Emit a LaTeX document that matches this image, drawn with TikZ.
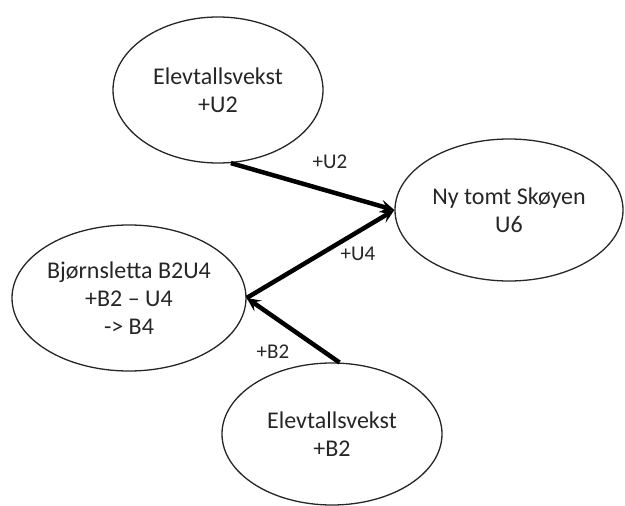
\documentclass[tikz,border=0pt]{standalone}
\usepackage{fontspec}
\setmainfont{Carlito}
\usetikzlibrary{shapes.geometric,arrows.meta}
\begin{document}
\begin{tikzpicture}[x=1pt,y=-1pt,
  bubble/.style={draw=black!85,line width=1.3pt,ellipse,inner sep=0pt,align=center,
    text=black!85,font=\fontsize{24}{28}\selectfont},
  flow/.style={line width=4.5pt,-{Stealth[length=14pt,width=13pt,inset=6pt]}},
  flowlabel/.style={text=black!85,font=\fontsize{21}{24}\selectfont}]
\useasboundingbox (0,0) rectangle (625,506);
\node[bubble,minimum width=210pt,minimum height=146pt] (vekstU) at (218,90) {Elevtallsvekst\\+U2};
\node[bubble,minimum width=228pt,minimum height=142pt] (tomt) at (509,210) {Ny tomt Skøyen\\U6};
\node[bubble,minimum width=234pt,minimum height=146pt] (bjorn) at (129,298) {Bjørnsletta B2U4\\+B2 – U4\\-> B4};
\node[bubble,minimum width=220pt,minimum height=142pt] (vekstB) at (332,434) {Elevtallsvekst\\+B2};
\draw[flow] (vekstU.-80) -- (tomt.west);
\draw[flow] (bjorn.east) -- (tomt.west);
\draw[flow] (vekstB.84) -- (bjorn.east);
\node[flowlabel] (lu2) at (330,162) {+U2};
\node[flowlabel] (lu4) at (358,254) {+U4};
\node[flowlabel] (lb2) at (273,352) {+B2};
\end{tikzpicture}
\end{document}
